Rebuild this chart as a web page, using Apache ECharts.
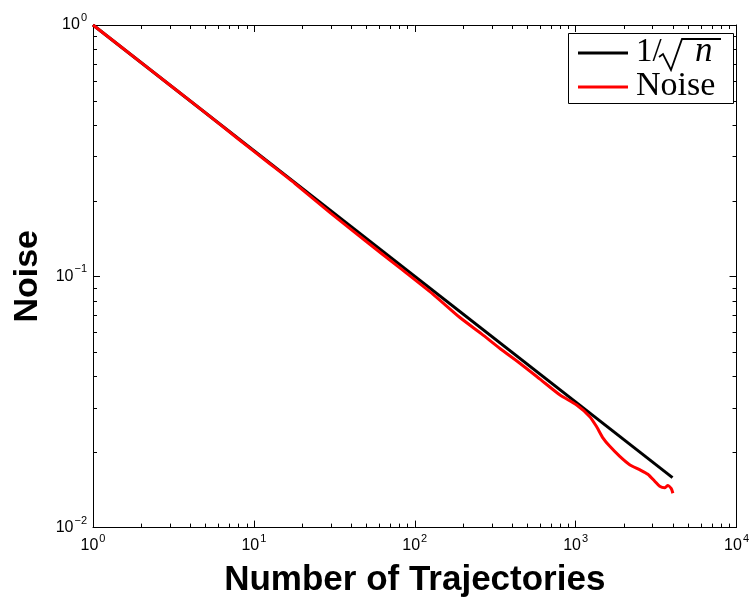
<!DOCTYPE html>
<html>
<head>
<meta charset="utf-8">
<script src="https://cdn.jsdelivr.net/npm/echarts@6/dist/echarts.min.js"></script>
<style>
  html, body { margin: 0; padding: 0; background: #fff; }
  #chart { width: 752px; height: 603px; }
</style>
</head>
<body>
<div id="chart"></div>
<script>
// Reference curve 1/sqrt(n): a straight line on log-log axes
const refTrajectories = [1, 4000];
const refNoise = [1, 0.0158];

// Measured noise versus number of trajectories
const trajectories = [1, 2, 3, 5, 8, 12, 18, 30, 50, 80, 130, 190, 260, 340, 450, 600, 800,
  1010, 1220, 1345, 1480, 1625, 1880, 2165, 2500, 2810, 3100, 3330, 3570, 3744, 3930, 4020];
const noise = [1.0, 0.707, 0.577, 0.447, 0.352, 0.287, 0.234, 0.1785, 0.1375, 0.1085, 0.0848,
  0.0687, 0.0590, 0.0515, 0.0451, 0.0390, 0.0337, 0.0308, 0.0277, 0.0253, 0.0227, 0.0211,
  0.0192, 0.0178, 0.0170, 0.0163, 0.0153, 0.0146, 0.0144, 0.0147, 0.0143, 0.0137];

// Decade exponents shown on each axis
const xDecades = [0, 1, 2, 3, 4];
const yDecades = [-2, -1, 0];

const SANS = "'Liberation Sans', Arial, sans-serif";
const SERIF = "'Liberation Serif', 'Times New Roman', serif";

// Minor ticks at 2..9 x 10^k inside every decade, for both axes
const minorTicks = [];
for (let i = 0; i < xDecades.length - 1; i++) {
  for (let m = 2; m <= 9; m++) minorTicks.push([m * Math.pow(10, xDecades[i]), 1, 0]);
}
for (let i = 0; i < yDecades.length - 1; i++) {
  for (let m = 2; m <= 9; m++) minorTicks.push([1, +(m * Math.pow(10, yDecades[i])).toPrecision(6), 1]);
}

function pow10Label(value) {
  const e = Math.round(Math.log10(value));
  return '{base|10}{sup|' + String(e).replace('-', '\u2212') + '}';
}
const powRich = {
  base: { fontFamily: SANS, fontSize: 16, color: '#000', lineHeight: 20 },
  sup: { fontFamily: SANS, fontSize: 11, color: '#000', lineHeight: 20, padding: [0, 0, 14, 1] }
};

const chart = echarts.init(document.getElementById('chart'), null, { renderer: 'canvas' });

const tickStyle = { show: true, inside: true, length: 7, lineStyle: { color: '#000', width: 1 } };

chart.setOption({
  animation: false,
  backgroundColor: '#fff',
  grid: { left: 93, right: 15, top: 25, bottom: 71, containLabel: false },
  xAxis: [{
    type: 'log', logBase: 10, min: 1, max: 10000, position: 'bottom',
    name: 'Number of Trajectories', nameLocation: 'middle', nameGap: 27,
    nameTextStyle: { fontFamily: SANS, fontSize: 35, fontWeight: 'bold', color: '#000' },
    axisLine: { show: true, lineStyle: { color: '#000', width: 1 } },
    axisTick: tickStyle,
    axisLabel: { margin: 8, fontSize: 16, fontFamily: SANS, color: '#000', formatter: pow10Label, rich: powRich },
    splitLine: { show: false }
  }, {
    type: 'log', logBase: 10, min: 1, max: 10000, position: 'top',
    axisLine: { show: true, lineStyle: { color: '#000', width: 1 } },
    axisTick: tickStyle, axisLabel: { show: false }, splitLine: { show: false }
  }],
  yAxis: [{
    type: 'log', logBase: 10, min: 0.01, max: 1, position: 'left',
    name: 'Noise', nameLocation: 'middle', nameGap: 44,
    nameTextStyle: { fontFamily: SANS, fontSize: 34, fontWeight: 'bold', color: '#000' },
    axisLine: { show: true, lineStyle: { color: '#000', width: 1 } },
    axisTick: tickStyle,
    axisLabel: { margin: 6, fontSize: 16, fontFamily: SANS, color: '#000', formatter: pow10Label, rich: powRich },
    splitLine: { show: false }
  }, {
    type: 'log', logBase: 10, min: 0.01, max: 1, position: 'right',
    axisLine: { show: true, lineStyle: { color: '#000', width: 1 } },
    axisTick: tickStyle, axisLabel: { show: false }, splitLine: { show: false }
  }],
  series: [{
    name: '1/sqrt(n)', type: 'line', xAxisIndex: 0, yAxisIndex: 0,
    data: refTrajectories.map((n, i) => [n, refNoise[i]]),
    showSymbol: false, lineStyle: { color: '#000', width: 3, cap: 'butt' }, z: 3
  }, {
    name: 'Noise', type: 'line', xAxisIndex: 0, yAxisIndex: 0,
    data: trajectories.map((n, i) => [n, noise[i]]),
    showSymbol: false, smooth: 0.2, lineStyle: { color: '#ff0000', width: 3, cap: 'butt' }, z: 4
  }, {
    // minor ticks drawn on all four sides of the plot box
    type: 'custom', coordinateSystem: 'cartesian2d', xAxisIndex: 0, yAxisIndex: 0,
    silent: true, clip: false, z: 5,
    data: minorTicks,
    renderItem: function (params, api) {
      const cs = params.coordSys;
      const style = { stroke: '#000', lineWidth: 1 };
      const L = 4;
      if (api.value(2) === 0) {
        const px = Math.round(api.coord([api.value(0), 0.1])[0]) + 0.5;
        const yb = cs.y + cs.height, yt = cs.y;
        return { type: 'group', children: [
          { type: 'line', shape: { x1: px, y1: yb, x2: px, y2: yb - L }, style: style },
          { type: 'line', shape: { x1: px, y1: yt, x2: px, y2: yt + L }, style: style }
        ] };
      }
      const py = Math.round(api.coord([10, api.value(1)])[1]) + 0.5;
      const xl = cs.x, xr = cs.x + cs.width;
      return { type: 'group', children: [
        { type: 'line', shape: { x1: xl, y1: py, x2: xl + L, y2: py }, style: style },
        { type: 'line', shape: { x1: xr, y1: py, x2: xr - L, y2: py }, style: style }
      ] };
    }
  }],
  graphic: [
    { type: 'rect', z: 100, shape: { x: 568.5, y: 33.5, width: 165, height: 70 },
      style: { fill: '#fff', stroke: '#000', lineWidth: 1 } },
    { type: 'line', z: 101, shape: { x1: 578, y1: 53, x2: 628, y2: 53 },
      style: { stroke: '#000', lineWidth: 3 } },
    { type: 'line', z: 101, shape: { x1: 578, y1: 87, x2: 628, y2: 87 },
      style: { stroke: '#ff0000', lineWidth: 3 } },
    { type: 'text', z: 101, x: 636, y: 52,
      style: { text: '1/', fontFamily: SERIF, fontSize: 33, fill: '#000', verticalAlign: 'middle' } },
    // radical sign with its vinculum over n
    { type: 'polyline', z: 101,
      shape: { points: [[659, 57], [663, 54], [671, 70], [682, 39], [721, 39]] },
      style: { stroke: '#000', lineWidth: 1.8, fill: null, lineJoin: 'miter' } },
    { type: 'text', z: 101, x: 695, y: 52,
      style: { text: 'n', fontFamily: SERIF, fontSize: 35, fontStyle: 'italic', fill: '#000', verticalAlign: 'middle' } },
    { type: 'text', z: 101, x: 636, y: 86,
      style: { text: 'Noise', fontFamily: SERIF, fontSize: 34, fill: '#000', verticalAlign: 'middle' } }
  ]
});
</script>
</body>
</html>
